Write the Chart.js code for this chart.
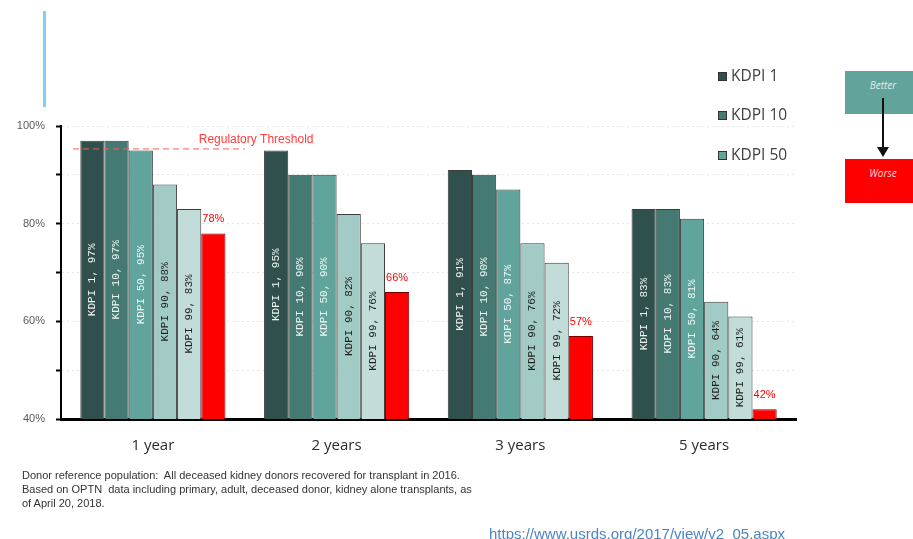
<!DOCTYPE html>
<html>
<head>
<meta charset="utf-8">
<script src="https://cdn.jsdelivr.net/npm/chart.js@4"></script>
<style>
  html, body { margin: 0; padding: 0; background: #fff; overflow: hidden; }
  .page { position: relative; width: 913px; height: 539px; overflow: hidden; font-family: "Liberation Sans", Arial, sans-serif; }
  .page canvas { position: absolute; left: 0; top: 0; }
  .accent { position: absolute; left: 43px; top: 11px; width: 3px; height: 96px; background: #7fd0f2; }
  .box { position: absolute; left: 845px; width: 76px; text-align: center; font-family: "Open Sans", sans-serif; font-style: italic; font-size: 10px; line-height: 12px; padding-top: 8px; box-sizing: border-box; }
  .better { top: 71px; height: 43px; background: #62a39b; color: #dcefec; }
  .worse { top: 159px; height: 44px; background: #ff0000; color: #ffd8d8; }
  .arrow { position: absolute; left: 873px; top: 96px; }
  .note { position: absolute; left: 22px; top: 468px; font-size: 11px; line-height: 14px; color: #333; }
  .url { position: absolute; left: 489px; top: 525px; font-size: 15px; line-height: 18px; color: #4a84c6; }
</style>
</head>
<body>
<div class="page">
  <canvas id="kdpiChart" width="913" height="539"></canvas>
  <div class="accent"></div>
  <div class="box better">Better</div>
  <svg class="arrow" width="20" height="64">
    <line x1="10" y1="2" x2="10" y2="52" stroke="#111" stroke-width="2"/>
    <polygon points="4,51 16,51 10,61" fill="#111"/>
  </svg>
  <div class="box worse">Worse</div>
  <div class="note">
    Donor reference population:&nbsp; All deceased kidney donors recovered for transplant in 2016.<br>
    Based on OPTN&nbsp; data including primary, adult, deceased donor, kidney alone transplants, as<br>
    of April 20, 2018.
  </div>
  <div class="url">https://www.usrds.org/2017/view/v2_05.aspx</div>
</div>
<script>
// graft survival by donor KDPI, in percent
const years = ['1 year', '2 years', '3 years', '5 years'];
const kdpi1 = [97, 95, 91, 83];
const kdpi10 = [97, 90, 90, 83];
const kdpi50 = [95, 90, 87, 81];
const kdpi90 = [88, 82, 76, 64];
const kdpi99 = [83, 76, 72, 61];
const lowest = [78, 66, 57, 42];
const yTicks = [40, 60, 80, 100];
const threshold = 95.3;

const seriesNames = ['KDPI 1', 'KDPI 10', 'KDPI 50', 'KDPI 90', 'KDPI 99', ''];
const seriesData = [kdpi1, kdpi10, kdpi50, kdpi90, kdpi99, lowest];
const fills = ['#2f504c', '#457a72', '#60a49b', '#a3cbc6', '#c2dcd9', '#ff0000'];
const textColors = ['#f0f5f4', '#eef5f4', '#eef6f5', '#1e1e1e', '#1e1e1e'];

const datasets = seriesData.map((d, i) => ({
  label: seriesNames[i],
  data: d,
  backgroundColor: fills[i],
  borderColor: i === 5 ? '#7a0000' : '#3c3c3c',
  borderWidth: 1,
  borderSkipped: 'bottom',
  categoryPercentage: 0.79,
  barPercentage: 1.0
}));

// labels inside/above bars, the threshold line and the legend
const decorations = {
  id: 'decorations',
  afterDatasetsDraw(chart) {
    const ctx = chart.ctx;
    const x = chart.scales.x;
    const y = chart.scales.y;
    const bottom = chart.chartArea.bottom;

    chart.data.datasets.forEach((ds, i) => {
      const meta = chart.getDatasetMeta(i);
      meta.data.forEach((bar, j) => {
        const v = ds.data[j];
        ctx.save();
        if (i < 5) {
          ctx.translate(bar.x, (bar.y + bottom) / 2);
          ctx.rotate(-Math.PI / 2);
          ctx.font = '11px "Liberation Mono", "DejaVu Sans Mono", monospace';
          ctx.fillStyle = textColors[i];
          ctx.textAlign = 'center';
          ctx.textBaseline = 'middle';
          ctx.fillText(ds.label + ', ' + v + '%', 0, 0);
        } else {
          ctx.font = '11px "Liberation Sans", Arial, sans-serif';
          ctx.fillStyle = '#ff0000';
          ctx.textAlign = 'center';
          ctx.textBaseline = 'middle';
          ctx.fillText(v + '%', bar.x, bar.y - 14);
        }
        ctx.restore();
      });
    });

    // regulatory threshold across the first group
    const ty = y.getPixelForValue(threshold);
    const x0 = chart.chartArea.left + 12;
    const x1 = (x.getPixelForValue(0) + x.getPixelForValue(1)) / 2;
    ctx.save();
    ctx.strokeStyle = '#ff5a5a';
    ctx.lineWidth = 1;
    ctx.setLineDash([6, 4]);
    ctx.beginPath();
    ctx.moveTo(x0, ty);
    ctx.lineTo(x1, ty);
    ctx.stroke();
    ctx.setLineDash([]);
    ctx.font = '12px "Liberation Sans", Arial, sans-serif';
    ctx.fillStyle = '#ff3b3b';
    ctx.textAlign = 'left';
    ctx.textBaseline = 'middle';
    ctx.fillText('Regulatory Threshold', x1 - 46, ty - 9);
    ctx.restore();
  },
  afterDraw(chart) {
    const ctx = chart.ctx;
    const rows = [77, 116, 156];
    ctx.save();
    ctx.font = '15.5px "Open Sans", sans-serif';
    ctx.textBaseline = 'middle';
    ctx.textAlign = 'left';
    rows.forEach((ry, i) => {
      const ds = chart.data.datasets[i];
      ctx.fillStyle = ds.backgroundColor;
      ctx.fillRect(718, ry - 5, 9, 9);
      ctx.strokeStyle = '#333';
      ctx.lineWidth = 1;
      ctx.strokeRect(718.5, ry - 4.5, 8, 8);
      ctx.fillStyle = '#404040';
      ctx.fillText(ds.label, 731, ry);
    });
    ctx.restore();
  }
};

new Chart(document.getElementById('kdpiChart'), {
  type: 'bar',
  data: { labels: years, datasets: datasets },
  options: {
    responsive: false,
    animation: false,
    layout: { padding: { top: 126, left: 0, right: 117, bottom: 80 } },
    plugins: {
      legend: { display: false },
      tooltip: { enabled: false }
    },
    scales: {
      x: {
        grid: { drawOnChartArea: false, drawTicks: false },
        border: { color: '#000', width: 3 },
        ticks: {
          padding: 18,
          color: '#2b2b2b',
          font: { family: '"Open Sans", sans-serif', size: 15 }
        },
        afterFit(scale) { scale.height = 40; }
      },
      y: {
        min: 40,
        max: 100,
        grid: {
          color: '#e6e6e6',
          lineWidth: 1,
          tickColor: '#000',
          tickWidth: 2,
          tickLength: 5,
          tickBorderDash: []
        },
        border: { color: '#000', width: 2, dash: [2, 3] },
        ticks: {
          stepSize: 10,
          padding: 11,
          color: '#595959',
          font: { family: '"Liberation Sans", Arial, sans-serif', size: 11 },
          callback: v => yTicks.includes(v) ? v + '%' : ''
        },
        afterFit(scale) { scale.width = 61; }
      }
    }
  },
  plugins: [decorations]
});
</script>
</body>
</html>
